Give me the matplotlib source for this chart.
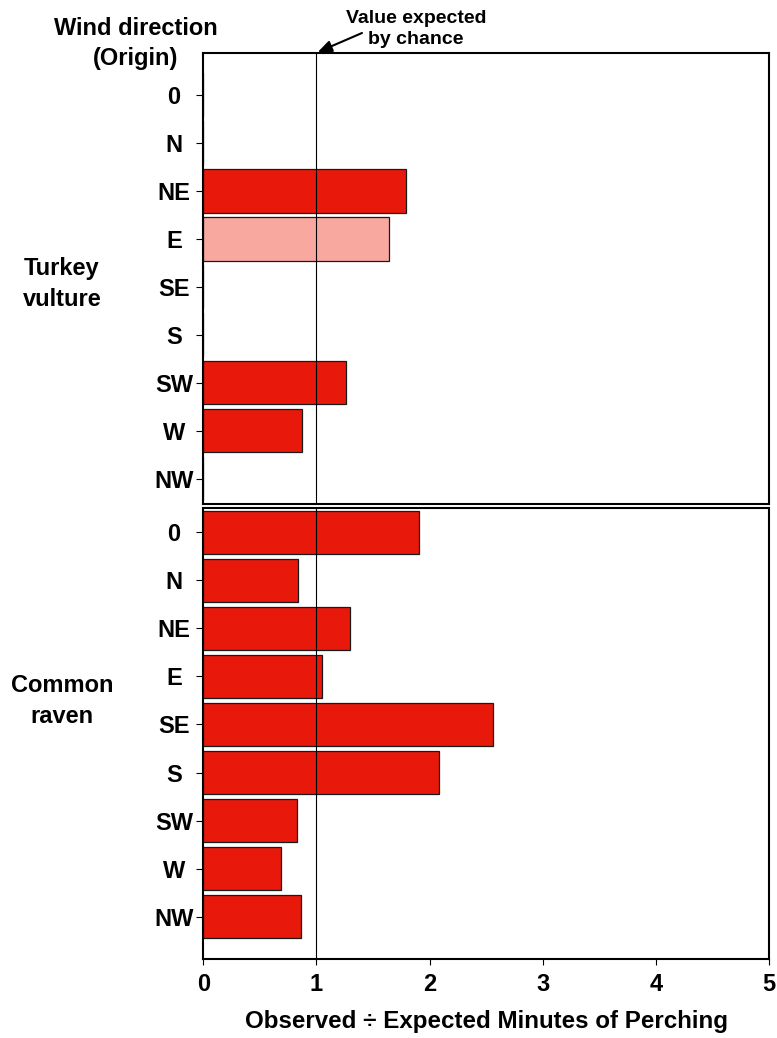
import matplotlib
matplotlib.use("Agg")
import matplotlib.pyplot as plt
from matplotlib.transforms import blended_transform_factory

plt.rcParams['font.family'] = ['Liberation Sans', 'DejaVu Sans']
plt.rcParams['font.weight'] = 'bold'

directions = ["0", "N", "NE", "E", "SE", "S", "SW", "W", "NW"]
vulture_values = [0, 0, 1.79, 1.64, 0, 0, 1.26, 0.87, 0]
vulture_colors = ["#E8180A", "#E8180A", "#E8180A", "#F9A8A0", "#E8180A",
                  "#E8180A", "#E8180A", "#E8180A", "#E8180A"]
raven_values = [1.91, 0.84, 1.30, 1.05, 2.56, 2.08, 0.83, 0.69, 0.86]
raven_colors = ["#E8180A"] * 9
x_ticks = [0, 1, 2, 3, 4, 5]
chance_value = 1

W, H = 777, 1038
fig = plt.figure(figsize=(W / 100, H / 100), dpi=100)

def fx(px):
    return px / W

def fy(py):
    return 1 - py / H

left, right = 203.3, 769.0
ax_top = fig.add_axes([fx(left), fy(504.3), fx(right - left), (504.3 - 52.7) / H])
ax_bot = fig.add_axes([fx(left), fy(958.7), fx(right - left), (958.7 - 508.3) / H])

pos = list(range(len(directions)))
FS = 17

for ax, vals, cols, ylim in [(ax_top, vulture_values, vulture_colors, (8.53, -0.88)),
                             (ax_bot, raven_values, raven_colors, (8.875, -0.5))]:
    ax.barh(pos, vals, height=0.9, color=cols, edgecolor="#1a1a1a", linewidth=0.9, zorder=2)
    ax.axvline(chance_value, color="black", linewidth=0.8, zorder=3)
    ax.set_xlim(0, 5)
    ax.set_ylim(*ylim)
    ax.set_yticks(pos)
    ax.set_yticklabels(directions, fontsize=FS, fontweight='bold')
    for lbl in ax.get_yticklabels():
        lbl.set_ha('center')
    ax.tick_params(axis='y', direction='out', length=4.7, width=0.8, pad=16.4)
    for s in ax.spines.values():
        s.set_linewidth(1.5)
        s.set_color('black')

ax_top.set_xticks([])
ax_bot.set_xticks(x_ticks)
ax_bot.set_xticklabels([str(t) for t in x_ticks], fontsize=FS, fontweight='bold')
ax_bot.tick_params(axis='x', direction='out', length=4.5, width=0.8, pad=6)
ax_bot.set_xlabel("Observed \u00f7 Expected Minutes of Perching", fontsize=17.4,
                  fontweight='bold', labelpad=10)

# Left-side texts
fig.text(fx(136), fy(43.5), "Wind direction\n(Origin)", ha='center', va='center',
         fontsize=FS, fontweight='bold', linespacing=1.42)
fig.text(fx(62), fy(284), "Turkey\nvulture", ha='center', va='center', fontsize=FS,
         fontweight='bold', linespacing=1.42)
fig.text(fx(62), fy(701), "Common\nraven", ha='center', va='center', fontsize=FS,
         fontweight='bold', linespacing=1.42)

# Annotation text and arrow
fig.text(fx(416), fy(29), "Value expected\nby chance", ha='center', va='center',
         fontsize=14, fontweight='bold', linespacing=1.3)
trans = blended_transform_factory(ax_top.transData, ax_top.transAxes)
ax_top.annotate("", xy=(chance_value, 1.0), xycoords=trans,
                xytext=(fx(362), fy(33)), textcoords='figure fraction',
                arrowprops=dict(arrowstyle='-|>,head_length=0.6,head_width=0.25',
                                color='black', lw=1.5, shrinkA=0, shrinkB=1,
                                mutation_scale=14),
                annotation_clip=False)

fig.savefig("out.png", dpi=100)
